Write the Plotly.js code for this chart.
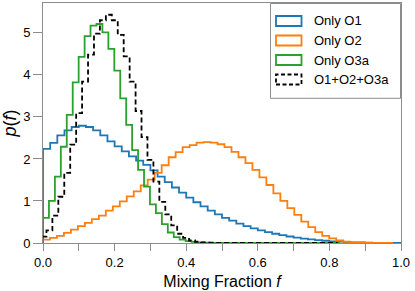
<!DOCTYPE html>
<html><head><meta charset="utf-8">
<script src="https://cdn.plot.ly/plotly-3.0.1.min.js"></script>
<style>html,body{margin:0;padding:0;background:#fff}#chart{width:415px;height:291px}</style>
</head><body><div id="chart"></div>
<script>
// ---- data (probability densities per bin) ----
const seriesNames = ['Only O1', 'Only O2', 'Only O3a', 'O1+O2+O3a'];
const binStartO1 = 0, binWidthO1 = 0.02;
const binStartO2 = 0, binWidthO2 = 0.0195;
const binStartO3a = 0, binWidthO3a = 0.0166;
const binStartAll = -0.007, binWidthAll = 0.0166;
const densityO1 = [2.24, 2.38, 2.56, 2.68, 2.76, 2.79, 2.76, 2.68, 2.56, 2.42,
  2.30, 2.18, 2.06, 1.96, 1.86, 1.73, 1.58, 1.45, 1.32, 1.20,
  1.08, 0.97, 0.87, 0.77, 0.68, 0.60, 0.53, 0.46, 0.40, 0.35,
  0.30, 0.26, 0.22, 0.185, 0.155, 0.13, 0.105, 0.085, 0.068, 0.053,
  0.041, 0.031, 0.023, 0.017, 0.012, 0.008, 0.005, 0.003, 0.002, 0.001];
const densityO2 = [0.08, 0.12, 0.17, 0.24, 0.32, 0.40, 0.48, 0.57, 0.65, 0.77,
  0.87, 0.99, 1.11, 1.23, 1.37, 1.51, 1.67, 1.85, 2.04, 2.16,
  2.28, 2.33, 2.39, 2.40, 2.39, 2.35, 2.28, 2.17, 2.04, 1.90,
  1.74, 1.56, 1.38, 1.18, 1.00, 0.83, 0.67, 0.51, 0.38, 0.26,
  0.17, 0.11, 0.06, 0.03, 0.015, 0.008, 0.004, 0.002, 0.001, 0.0005];
const densityO3a = [0.60, 1.00, 1.58, 2.29, 3.05, 3.82, 4.43, 4.92, 5.17, 5.21,
  5.01, 4.62, 4.10, 3.44, 2.81, 2.21, 1.74, 1.34, 0.92, 0.71,
  0.45, 0.25, 0.14, 0.08, 0.045, 0.025, 0.014, 0.008, 0.005, 0.003,
  0.002, 0.001, 0.001, 0.0005, 0.0003, 0.0002, 0.0001, 0.0001, 0, 0,
  0, 0, 0, 0, 0, 0, 0, 0, 0, 0];
const densityAll = [0.15, 0.30, 0.65, 1.10, 1.67, 2.34, 3.09, 3.84, 4.48, 4.98,
  5.30, 5.43, 5.30, 4.95, 4.44, 3.84, 3.14, 2.52, 1.98, 1.46,
  0.98, 0.68, 0.42, 0.22, 0.12, 0.06, 0.03, 0.015, 0.008, 0.004,
  0.002, 0.001, 0.0005, 0.0003, 0.0002, 0.0001, 0, 0, 0, 0,
  0, 0, 0, 0, 0, 0, 0, 0, 0, 0];
const xTickVals = [0, 0.2, 0.4, 0.6, 0.8, 1.0];
const xTickText = ['0.0', '0.2', '0.4', '0.6', '0.8', '1.0'];
const yTickVals = [0, 1, 2, 3, 4, 5];
const yTickText = ['0', '1', '2', '3', '4', '5'];

// ---- styling ----
const colors = ['#1f77b4', '#ff7f0e', '#2ca02c', '#000000'];
const dashes = ['solid', 'solid', 'solid', '5px,3px'];
const FONT = 'Arial, "Liberation Sans", Helvetica, sans-serif';

function stepTrace(vals, start, w, i) {
  const xs = [start], ys = [0];
  for (let k = 0; k < vals.length; k++) { xs.push(start + k * w); ys.push(vals[k]); }
  const end = start + vals.length * w;
  xs.push(end); ys.push(vals[vals.length - 1]);
  xs.push(end); ys.push(0);
  return {x: xs, y: ys, type: 'scatter', mode: 'lines', name: seriesNames[i],
    line: {shape: 'hv', color: colors[i], width: 1.8, dash: dashes[i]},
    showlegend: false, hoverinfo: 'skip'};
}
const traces = [
  stepTrace(densityO1, binStartO1, binWidthO1, 0),
  stepTrace(densityO2, binStartO2, binWidthO2, 1),
  stepTrace(densityO3a, binStartO3a, binWidthO3a, 2),
  stepTrace(densityAll, binStartAll, binWidthAll, 3)
];

// plot-area pixel geometry for the hand-drawn legend
const W = 415, H = 291, L = 43, R = 14, T = 3, B = 48;
const pw = W - L - R, ph = H - T - B;
const px = v => (v - L) / pw;
const py = v => (H - B - v) / ph;

const shapes = [{type: 'rect', xref: 'paper', yref: 'paper',
  x0: px(270.5), x1: px(400.5), y0: py(98.3), y1: py(3.5),
  line: {color: '#8c8c8c', width: 1}, fillcolor: 'rgba(255,255,255,0.8)', layer: 'above'}];
const annotations = [];
const rowY = [21, 40.5, 60, 79.5];
for (let i = 0; i < 4; i++) {
  shapes.push({type: 'rect', xref: 'paper', yref: 'paper',
    x0: px(276), x1: px(301.5), y0: py(rowY[i] + 5), y1: py(rowY[i] - 5),
    line: {color: colors[i], width: 1.8, dash: i === 3 ? '4px,2.5px' : 'solid'},
    fillcolor: 'rgba(0,0,0,0)', layer: 'above'});
  annotations.push({xref: 'paper', yref: 'paper', x: px(312), y: py(rowY[i]),
    xanchor: 'left', yanchor: 'middle', showarrow: false, text: seriesNames[i],
    font: {family: FONT, size: 13, color: '#000'}});
}

const layout = {
  width: W, height: H,
  margin: {l: L, r: R, t: T, b: B, pad: 0},
  paper_bgcolor: '#fff', plot_bgcolor: '#fff',
  showlegend: false,
  font: {family: FONT, size: 13, color: '#000'},
  xaxis: {range: [0, 1], tickvals: xTickVals, ticktext: xTickText,
    ticks: 'outside', ticklen: 7, tickwidth: 1, tickcolor: '#8c8c8c',
    minor: {dtick: 0.1, tick0: 0, ticks: 'outside', ticklen: 7, tickwidth: 1, tickcolor: '#8c8c8c', showgrid: false},
    showline: true, linecolor: '#8c8c8c', linewidth: 1, mirror: true,
    showgrid: false, zeroline: false,
    tickfont: {family: FONT, size: 13, color: '#000'},
    title: {text: 'Mixing Fraction <i>f</i>', font: {family: FONT, size: 16, color: '#000'}, standoff: 7}},
  yaxis: {range: [0, 5.71], tickvals: yTickVals, ticktext: yTickText,
    ticks: 'outside', ticklen: 9, tickwidth: 1, tickcolor: '#8c8c8c',
    showline: true, linecolor: '#8c8c8c', linewidth: 1, mirror: true,
    showgrid: false, zeroline: false,
    tickfont: {family: FONT, size: 13, color: '#000'},
    title: {text: '<i>p</i>(<i>f</i>)', font: {family: FONT, size: 18, color: '#000'}, standoff: 6}},
  shapes: shapes,
  annotations: annotations
};
Plotly.newPlot('chart', traces, layout, {staticPlot: true, displayModeBar: false});
</script></body></html>
